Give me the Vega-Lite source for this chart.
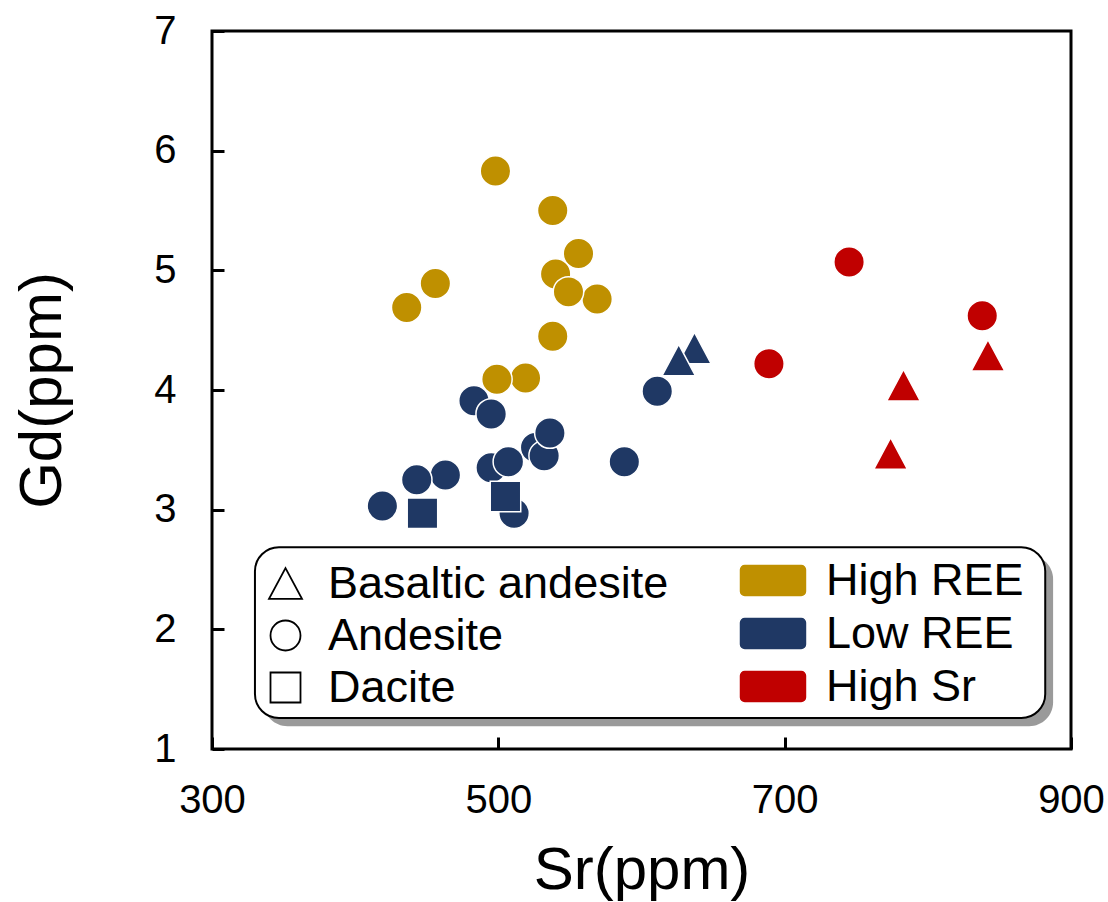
{
  "$schema": "https://vega.github.io/schema/vega-lite/v6.json",
  "width": 859,
  "height": 718,
  "autosize": {"type": "none"},
  "padding": {"left": 212, "top": 31, "right": 37, "bottom": 153},
  "background": "white",
  "config": {
    "view": {"stroke": "black", "strokeWidth": 3},
    "font": "Liberation Sans",
    "axis": {
      "domain": false, "grid": false, "ticks": true, "offset": -12, "zindex": 2,
      "tickColor": "#000000", "tickWidth": 3, "tickSize": 12, "tickOpacity": 1,
      "labelFont": "Liberation Sans", "labelFontSize": 40, "labelColor": "black", "format": "d",
      "labelFlush": false, "labelOverlap": false,
      "titleFont": "Liberation Sans", "titleFontSize": 60, "titleFontWeight": "normal", "titleColor": "black"
    },
    "legend": {
      "labelFont": "Liberation Sans", "labelFontSize": 45, "labelColor": "black", "labelLimit": 0,
      "symbolBaseFillColor": "transparent", "symbolBaseStrokeColor": "black"
    }
  },
  "datasets": {
    "pts": [
      {"Sr": 483, "Gd": 3.91, "rock": "Andesite", "group": "Low REE"},
      {"Sr": 495, "Gd": 3.80, "rock": "Andesite", "group": "Low REE"},
      {"Sr": 526, "Gd": 3.52, "rock": "Andesite", "group": "Low REE"},
      {"Sr": 532, "Gd": 3.45, "rock": "Andesite", "group": "Low REE"},
      {"Sr": 536, "Gd": 3.64, "rock": "Andesite", "group": "Low REE"},
      {"Sr": 495, "Gd": 3.35, "rock": "Andesite", "group": "Low REE"},
      {"Sr": 507, "Gd": 3.40, "rock": "Andesite", "group": "Low REE"},
      {"Sr": 463, "Gd": 3.29, "rock": "Andesite", "group": "Low REE"},
      {"Sr": 443, "Gd": 3.25, "rock": "Andesite", "group": "Low REE"},
      {"Sr": 419, "Gd": 3.03, "rock": "Andesite", "group": "Low REE"},
      {"Sr": 511, "Gd": 2.97, "rock": "Andesite", "group": "Low REE"},
      {"Sr": 588, "Gd": 3.40, "rock": "Andesite", "group": "Low REE"},
      {"Sr": 611, "Gd": 3.99, "rock": "Andesite", "group": "Low REE"},
      {"Sr": 447, "Gd": 2.97, "rock": "Dacite", "group": "Low REE"},
      {"Sr": 505, "Gd": 3.11, "rock": "Dacite", "group": "Low REE"},
      {"Sr": 637, "Gd": 4.35, "rock": "Basaltic andesite", "group": "Low REE"},
      {"Sr": 626, "Gd": 4.25, "rock": "Basaltic andesite", "group": "Low REE"},
      {"Sr": 498, "Gd": 5.83, "rock": "Andesite", "group": "High REE"},
      {"Sr": 538, "Gd": 5.50, "rock": "Andesite", "group": "High REE"},
      {"Sr": 556, "Gd": 5.14, "rock": "Andesite", "group": "High REE"},
      {"Sr": 540, "Gd": 4.97, "rock": "Andesite", "group": "High REE"},
      {"Sr": 569, "Gd": 4.76, "rock": "Andesite", "group": "High REE"},
      {"Sr": 549, "Gd": 4.82, "rock": "Andesite", "group": "High REE"},
      {"Sr": 436, "Gd": 4.69, "rock": "Andesite", "group": "High REE"},
      {"Sr": 456, "Gd": 4.89, "rock": "Andesite", "group": "High REE"},
      {"Sr": 538, "Gd": 4.45, "rock": "Andesite", "group": "High REE"},
      {"Sr": 519, "Gd": 4.10, "rock": "Andesite", "group": "High REE"},
      {"Sr": 499, "Gd": 4.09, "rock": "Andesite", "group": "High REE"},
      {"Sr": 745, "Gd": 5.07, "rock": "Andesite", "group": "High Sr"},
      {"Sr": 838, "Gd": 4.62, "rock": "Andesite", "group": "High Sr"},
      {"Sr": 689, "Gd": 4.22, "rock": "Andesite", "group": "High Sr"},
      {"Sr": 783, "Gd": 4.04, "rock": "Basaltic andesite", "group": "High Sr"},
      {"Sr": 842, "Gd": 4.29, "rock": "Basaltic andesite", "group": "High Sr"},
      {"Sr": 774, "Gd": 3.47, "rock": "Basaltic andesite", "group": "High Sr"}
    ]
  },
  "layer": [
    {
      "data": {"values": [{}]},
      "mark": {"type": "rect", "color": "#9a9a9a", "cornerRadius": 24},
      "encoding": {
        "x": {"datum": 336, "type": "quantitative", "title": "Sr(ppm)"},
        "x2": {"datum": 887.5},
        "y": {"datum": 2.62, "type": "quantitative", "title": "Gd(ppm)"},
        "y2": {"datum": 1.19}
      }
    },
    {
      "data": {"values": [{}]},
      "mark": {"type": "rect", "fill": "white", "stroke": "black", "strokeWidth": 2, "cornerRadius": 24},
      "encoding": {
        "x": {"datum": 330, "type": "quantitative", "title": "Sr(ppm)"},
        "x2": {"datum": 882},
        "y": {"datum": 2.686, "type": "quantitative", "title": "Gd(ppm)"},
        "y2": {"datum": 1.259}
      }
    },
    {
      "data": {"name": "pts"},
      "mark": {"type": "point", "filled": true, "opacity": 1, "stroke": "white", "strokeWidth": 1.5, "size": 930},
      "encoding": {
        "x": {
          "field": "Sr", "type": "quantitative", "title": "Sr(ppm)",
          "scale": {"domain": [300, 900], "nice": false, "zero": false},
          "axis": {
            "values": [300, 500, 700, 900], "ticks": true, "tickSize": 12, "tickWidth": 3, "tickColor": "#000000", "labelPadding": 31, "titlePadding": 21,
            "encode": {"ticks": {"update": {"stroke": {"value": "#000000"}, "strokeWidth": {"value": 3}, "strokeOpacity": {"value": 1}, "opacity": {"value": 1}}}}
          }
        },
        "y": {
          "field": "Gd", "type": "quantitative", "title": "Gd(ppm)",
          "scale": {"domain": [1, 7], "nice": false, "zero": false},
          "axis": {
            "values": [1, 2, 3, 4, 5, 6, 7], "ticks": true, "tickSize": 12, "tickWidth": 3, "tickColor": "#000000", "labelPadding": 36, "titlePadding": 80,
            "encode": {"ticks": {"update": {"stroke": {"value": "#000000"}, "strokeWidth": {"value": 3}, "strokeOpacity": {"value": 1}, "opacity": {"value": 1}}}}
          }
        },
        "shape": {
          "field": "rock", "type": "nominal",
          "scale": {"domain": ["Basaltic andesite", "Andesite", "Dacite"], "range": ["M0,-1.03L1.1,1.03L-1.1,1.03Z", "circle", "square"]},
          "legend": {
            "title": null, "orient": "none", "legendX": 51, "legendY": 530,
            "symbolSize": 900, "rowPadding": 6, "labelOffset": 20,
            "symbolFillColor": "transparent", "symbolStrokeColor": "black", "symbolStrokeWidth": 1.8,
            "encode": {"symbols": {"update": {"fill": {"value": "transparent"}, "stroke": {"value": "black"}, "strokeWidth": {"value": 1.8}}}}
          }
        },
        "color": {
          "field": "group", "type": "nominal",
          "scale": {"domain": ["High REE", "Low REE", "High Sr"], "range": ["#BF9000", "#1F3864", "#C00000"]},
          "legend": {
            "title": null, "orient": "none", "legendX": 521, "legendY": 527,
            "symbolSize": 1089, "rowPadding": 7, "labelOffset": 48,
            "symbolType": "M-0.65,-1H2.77A0.35,0.35 0 0 1 3.12,-0.65V0.65A0.35,0.35 0 0 1 2.77,1H-0.65A0.35,0.35 0 0 1 -1,0.65V-0.65A0.35,0.35 0 0 1 -0.65,-1Z",
            "encode": {"symbols": {"update": {"stroke": {"value": "transparent"}, "strokeWidth": {"value": 0}}}}
          }
        }
      }
    }
  ]
}
